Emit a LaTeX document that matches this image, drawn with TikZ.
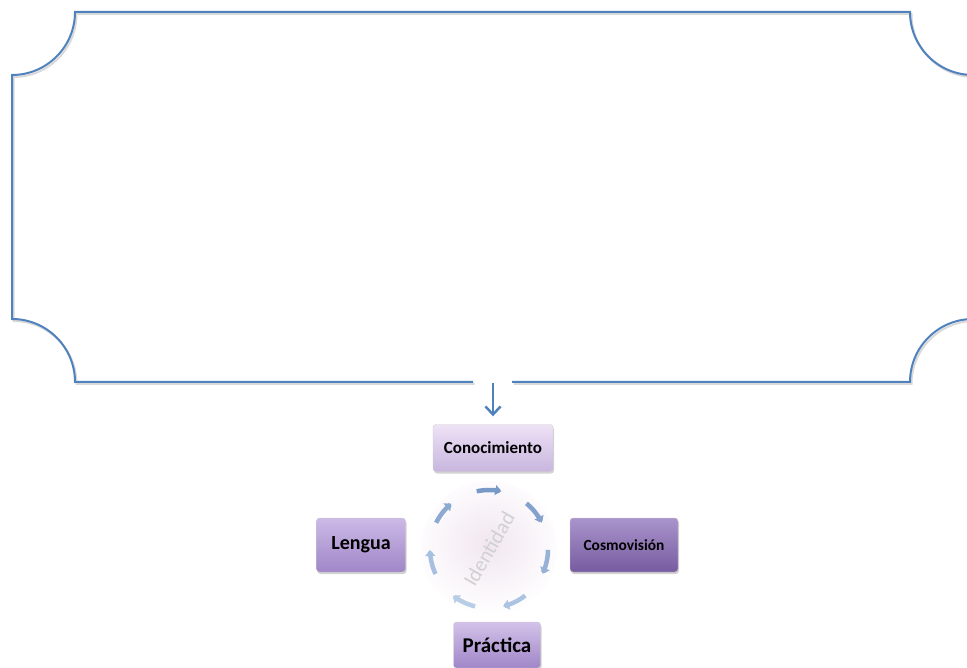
\documentclass[tikz,border=0pt]{standalone}
\usepackage{fontspec}
\setmainfont{Carlito}
\usetikzlibrary{arrows.meta,shadows}
\definecolor{azulmarco}{RGB}{79,129,189}
\definecolor{azulA}{RGB}{120,152,200}
\definecolor{azulB}{RGB}{200,218,238}
\definecolor{lilaA}{RGB}{238,226,246}
\definecolor{lilaB}{RGB}{200,182,222}
\definecolor{moradoA}{RGB}{204,186,230}
\definecolor{moradoB}{RGB}{160,134,200}
\definecolor{oscuroA}{RGB}{170,148,204}
\definecolor{oscuroB}{RGB}{118,92,160}
\definecolor{rosado}{RGB}{241,230,240}

\begin{document}
\begin{tikzpicture}[x=1pt,y=-1pt,
    caja/.style={draw=black!20,rounded corners=3pt,inner sep=0pt,font=\bfseries,
      drop shadow={shadow xshift=1pt,shadow yshift=-2pt,opacity=0.35}},
    marco/.style={draw=azulmarco,line width=2pt},
    flecha/.style={-{Straight Barb[length=8pt,width=15pt]},draw=azulmarco,line width=2.5pt},
    arco/.style={-{Triangle[length=6pt,width=10pt]},line width=4.5pt}]

    \clip (0,0) rectangle (967,668);

    \draw[draw=black!15,line width=2pt,shift={(1.5,2)}] (473,382) -- (75,382)
        .. controls (75,347.2) and (46.8,319) .. (12,319) -- (12,75)
        .. controls (46.8,75) and (75,46.8) .. (75,12) -- (910,12)
        .. controls (910,46.8) and (938.2,75) .. (973,75) -- (973,319)
        .. controls (938.2,319) and (910,347.2) .. (910,382) -- (512,382);
    \draw[marco] (473,382) -- (75,382)
        .. controls (75,347.2) and (46.8,319) .. (12,319) -- (12,75)
        .. controls (46.8,75) and (75,46.8) .. (75,12) -- (910,12)
        .. controls (910,46.8) and (938.2,75) .. (973,75) -- (973,319)
        .. controls (938.2,319) and (910,347.2) .. (910,382) -- (512,382);

    \coordinate (hueco) at (493,383);

    \node[circle,minimum size=136pt,shade,inner color=rosado,outer color=white,
        text=black!18,font=\fontsize{21}{24}\selectfont,rotate=60] (ident) at (489,549) {Identidad};

    \foreach \a/\p [evaluate=\a as \b using \a+24] in {-102/100,-50.6/85,0.8/60,52.2/35,103.6/20,155/40,206.4/75}
        \draw[arco,draw=azulA!\p!azulB,fill=azulA!\p!azulB] plot[domain=\a:\b,samples=12,smooth,variable=\t]
            ({489+59*cos(\t)},{549+59*sin(\t)});

    \node[caja,top color=lilaA,bottom color=lilaB,minimum width=120pt,minimum height=47pt,
        font=\bfseries\fontsize{17}{20}\selectfont] (conoc) at (493,448) {Conocimiento};
    \node[caja,top color=moradoA,bottom color=moradoB,minimum width=89pt,minimum height=54pt,
        font=\bfseries\fontsize{20}{24}\selectfont] (lengua) at (361,545) {Lengua};
    \node[caja,top color=oscuroA,bottom color=oscuroB,minimum width=108pt,minimum height=54pt,
        font=\bfseries\fontsize{15.4}{18}\selectfont] (cosmo) at (624,545) {Cosmovisión};
    \node[caja,top color=moradoA!80!lilaA,bottom color=moradoB,minimum width=87pt,minimum height=46pt,
        font=\bfseries\fontsize{21}{24}\selectfont] (practica) at (497,645) {Práctica};

    \draw[flecha,shorten >=8pt] (hueco) -- (conoc);

\end{tikzpicture}
\end{document}
